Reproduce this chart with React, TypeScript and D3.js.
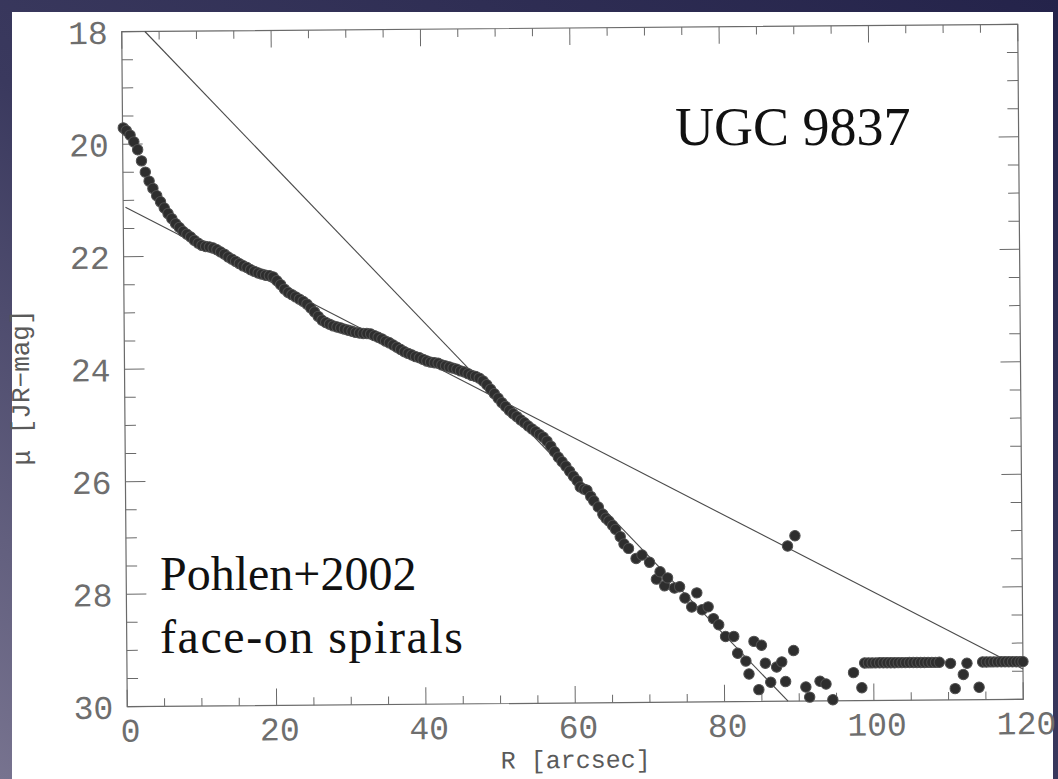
import React from "react";
import * as d3 from "d3";

// Surface-brightness profile of UGC 9837 (R in arcsec, mu in JR-mag/arcsec^2)
const radius = [
  0.1, 0.5, 1.0, 1.5, 2.0, 2.5, 3.0, 3.5, 4.0, 4.5, 5.0, 5.5, 6.0, 6.5, 7.0, 7.5, 8.0, 8.5, 9.0, 9.5,
  10.0, 10.5, 11.0, 11.5, 12.0, 12.5, 13.0, 13.5, 14.0, 14.5, 15.0, 15.5, 16.0, 16.5, 17.0, 17.5, 18.0, 18.5, 19.0, 19.5,
  20.0, 20.5, 21.0, 21.5, 22.0, 22.5, 23.0, 23.5, 24.0, 24.5, 25.0, 25.5, 26.0, 26.5, 27.0, 27.5, 28.0, 28.5, 29.0, 29.5,
  30.0, 30.5, 31.0, 31.5, 32.0, 32.5, 33.0, 33.5, 34.0, 34.5, 35.0, 35.5, 36.0, 36.5, 37.0, 37.5, 38.0, 38.5, 39.0, 39.5,
  40.0, 40.5, 41.0, 41.5, 42.0, 42.5, 43.0, 43.5, 44.0, 44.5, 45.0, 45.5, 46.0, 46.5, 47.0, 47.5, 48.0, 48.5, 49.0, 49.5,
  50.0, 50.5, 51.0, 51.5, 52.0, 52.5, 53.0, 53.5, 54.0, 54.5, 55.0, 55.5, 56.0, 56.5, 57.0, 57.5, 58.0, 58.5, 59.0, 59.5,
  60.0, 60.5, 60.9, 61.4, 61.8, 62.3, 62.7, 63.3, 63.9, 64.3, 64.7, 65.2, 65.6, 66.2, 66.7, 67.3, 68.3, 69.1, 70.1, 71.0,
  71.5, 72.1, 72.5, 73.4, 74.1, 74.8, 75.7, 76.4, 77.1, 77.9, 78.6, 79.3, 80.2, 81.3, 81.8, 82.9, 83.3, 84.0, 84.6, 85.0,
  85.5, 86.2, 87.0, 87.7, 88.2, 88.6, 89.3, 89.6, 90.9, 91.4, 92.8, 93.6, 94.5, 97.3, 98.4,
  98.8, 99.3, 99.8, 100.3, 100.8, 101.3, 101.8, 102.3, 102.8, 103.3, 103.8, 104.3, 104.8, 105.3, 105.8, 106.3, 106.8, 107.3, 107.8, 108.3, 108.8,
  110.3, 110.9, 112.0, 112.5, 114.1,
  114.6, 115.1, 115.6, 116.1, 116.6, 117.1, 117.6, 118.1, 118.6, 119.1, 119.6, 120.0,
];

const mu = [
  19.71, 19.76, 19.84, 19.96, 20.10, 20.30, 20.50, 20.66, 20.79, 20.92, 21.03, 21.14, 21.24, 21.33, 21.42, 21.49, 21.56, 21.61, 21.66, 21.72,
  21.77, 21.81, 21.83, 21.84, 21.86, 21.89, 21.93, 21.97, 22.02, 22.06, 22.10, 22.14, 22.18, 22.21, 22.25, 22.28, 22.31, 22.33, 22.35, 22.36,
  22.38, 22.45, 22.52, 22.60, 22.66, 22.70, 22.74, 22.78, 22.82, 22.87, 22.94, 23.01, 23.09, 23.16, 23.20, 23.23, 23.26, 23.28, 23.30, 23.32,
  23.34, 23.36, 23.38, 23.39, 23.40, 23.40, 23.41, 23.44, 23.47, 23.50, 23.54, 23.57, 23.61, 23.65, 23.69, 23.73, 23.76, 23.79, 23.82, 23.84,
  23.87, 23.90, 23.92, 23.93, 23.94, 23.97, 23.99, 24.01, 24.03, 24.05, 24.08, 24.10, 24.13, 24.16, 24.18, 24.21, 24.26, 24.33, 24.41, 24.49,
  24.57, 24.65, 24.72, 24.79, 24.85, 24.90, 24.96, 25.01, 25.07, 25.12, 25.17, 25.22, 25.27, 25.34, 25.43, 25.53, 25.63, 25.71, 25.79, 25.88,
  25.97, 26.05, 26.16, 26.20, 26.22, 26.33, 26.41, 26.52, 26.65, 26.72, 26.77, 26.85, 26.92, 27.05, 27.18, 27.26, 27.44, 27.38, 27.51, 27.81,
  27.68, 27.93, 27.79, 27.97, 27.95, 28.15, 28.31, 28.06, 28.36, 28.31, 28.52, 28.63, 28.84, 28.84, 29.14, 29.28, 29.51, 28.93, 29.79, 29.00,
  29.32, 29.66, 29.39, 29.30, 29.65, 27.24, 29.10, 27.06, 29.75, 29.93, 29.65, 29.70, 29.98, 29.50, 29.77,
  29.33, 29.33, 29.33, 29.33, 29.33, 29.33, 29.33, 29.33, 29.33, 29.33, 29.33, 29.33, 29.33, 29.33, 29.33, 29.33, 29.33, 29.33, 29.33, 29.33, 29.33,
  29.35, 29.80, 29.55, 29.35, 29.78,
  29.33, 29.33, 29.33, 29.33, 29.33, 29.33, 29.33, 29.33, 29.33, 29.33, 29.33, 29.33,
];

// Exponential-disc fits (two straight lines in mag space)
const steepFitR = [3.1, 88.5];
const steepFitMu = [18.0, 30.0];
const shallowFitR = [0.3, 120];
const shallowFitMu = [21.12, 29.46];

const xMajorTicks = [0, 20, 40, 60, 80, 100, 120];
const yMajorTicks = [18, 20, 22, 24, 26, 28, 30];

const W = 1058;
const H = 779;
const left = 124.5, right = 1020.5, top = 28, bottom = 703;
const cx = (left + right) / 2, cy = (top + bottom) / 2;

export default function App() {
  const x = d3.scaleLinear().domain([0, 120]).range([left, right]);
  const y = d3.scaleLinear().domain([18, 30]).range([top, bottom]);
  const xMinor = d3.range(0, 120.001, 5).filter((v) => v % 20 !== 0);
  const yMinor = d3.range(18, 30.001, 0.5).filter((v) => Math.abs(v % 2) > 1e-6);
  const line = d3.line<[number, number]>().x((d) => x(d[0])).y((d) => y(d[1]));
  const steep: [number, number][] = steepFitR.map((r, i) => [r, steepFitMu[i]]);
  const shallow: [number, number][] = shallowFitR.map((r, i) => [r, shallowFitMu[i]]);
  const axisColor = "#6a6a6a";
  const tickText = "#6e6e6e";
  const mono = "'Liberation Mono', 'DejaVu Sans Mono', monospace";
  const serif = "'Liberation Serif', 'DejaVu Serif', serif";

  return (
    <svg width={W} height={H} style={{ position: "absolute", left: 0, top: 0 }}>
      <defs>
        <linearGradient id="bg" x1="1" y1="0" x2="0" y2="1">
          <stop offset="0" stopColor="#24234a" />
          <stop offset="0.55" stopColor="#3a395e" />
          <stop offset="1" stopColor="#77738f" />
        </linearGradient>
      </defs>
      <rect x={0} y={0} width={W} height={H} fill="url(#bg)" />
      <rect x={12} y={12} width={1041} height={H - 12} fill="#ffffff" />

      <g transform={`rotate(-0.47 ${cx} ${cy})`}>
        {/* frame */}
        <rect x={left} y={top} width={right - left} height={bottom - top} fill="none" stroke={axisColor} strokeWidth={1.2} />
        {/* x ticks bottom & top */}
        {xMajorTicks.map((t) => (
          <g key={"xM" + t}>
            <line x1={x(t)} x2={x(t)} y1={bottom} y2={bottom - 17} stroke={axisColor} />
            <line x1={x(t)} x2={x(t)} y1={top} y2={top + 17} stroke={axisColor} />
            <text x={x(t) + 3} y={bottom + 35} fontFamily={mono} fontSize={33} fill={tickText} textAnchor="middle">
              {t}
            </text>
          </g>
        ))}
        {xMinor.map((t) => (
          <g key={"xm" + t}>
            <line x1={x(t)} x2={x(t)} y1={bottom} y2={bottom - 8} stroke={axisColor} />
            <line x1={x(t)} x2={x(t)} y1={top} y2={top + 8} stroke={axisColor} />
          </g>
        ))}
        {/* y ticks left & right */}
        {yMajorTicks.map((t) => (
          <g key={"yM" + t}>
            <line x1={left} x2={left + 20} y1={y(t)} y2={y(t)} stroke={axisColor} />
            <line x1={right} x2={right - 20} y1={y(t)} y2={y(t)} stroke={axisColor} />
            <text x={left - 14} y={y(t) + 12} fontFamily={mono} fontSize={33} fill={tickText} textAnchor="end">
              {t}
            </text>
          </g>
        ))}
        {yMinor.map((t) => (
          <g key={"ym" + t}>
            <line x1={left} x2={left + 11} y1={y(t)} y2={y(t)} stroke={axisColor} />
            <line x1={right} x2={right - 11} y1={y(t)} y2={y(t)} stroke={axisColor} />
          </g>
        ))}
        {/* axis titles */}
        <text x={(left + right) / 2} y={H - 11} fontFamily={mono} fontSize={25} fill="#5a5a5a" textAnchor="middle">
          R [arcsec]
        </text>
        <text
          transform={`translate(${29},${383}) rotate(-90)`}
          fontFamily={mono}
          fontSize={26}
          fill="#5a5a5a"
          textAnchor="middle"
        >
          μ [JR−mag]
        </text>
        {/* fit lines */}
        <path d={line(steep) || ""} fill="none" stroke="#4a4a4a" strokeWidth={1.1} />
        <path d={line(shallow) || ""} fill="none" stroke="#4a4a4a" strokeWidth={1.1} />
        {/* data points */}
        {radius.map((r, i) => (
          <circle key={i} cx={x(r)} cy={y(mu[i])} r={5.2} fill="#2e2e2e" stroke="#505050" strokeWidth={1} />
        ))}
      </g>

      {/* annotations */}
      <text x={675} y={145} fontFamily={serif} fontSize={54} fill="#111">
        UGC 9837
      </text>
      <text x={160} y={590} fontFamily={serif} fontSize={48} fill="#111">
        Pohlen+2002
      </text>
      <text x={160} y={653} fontFamily={serif} fontSize={48} fill="#111" textLength={303} lengthAdjust="spacing">
        face-on spirals
      </text>
    </svg>
  );
}
